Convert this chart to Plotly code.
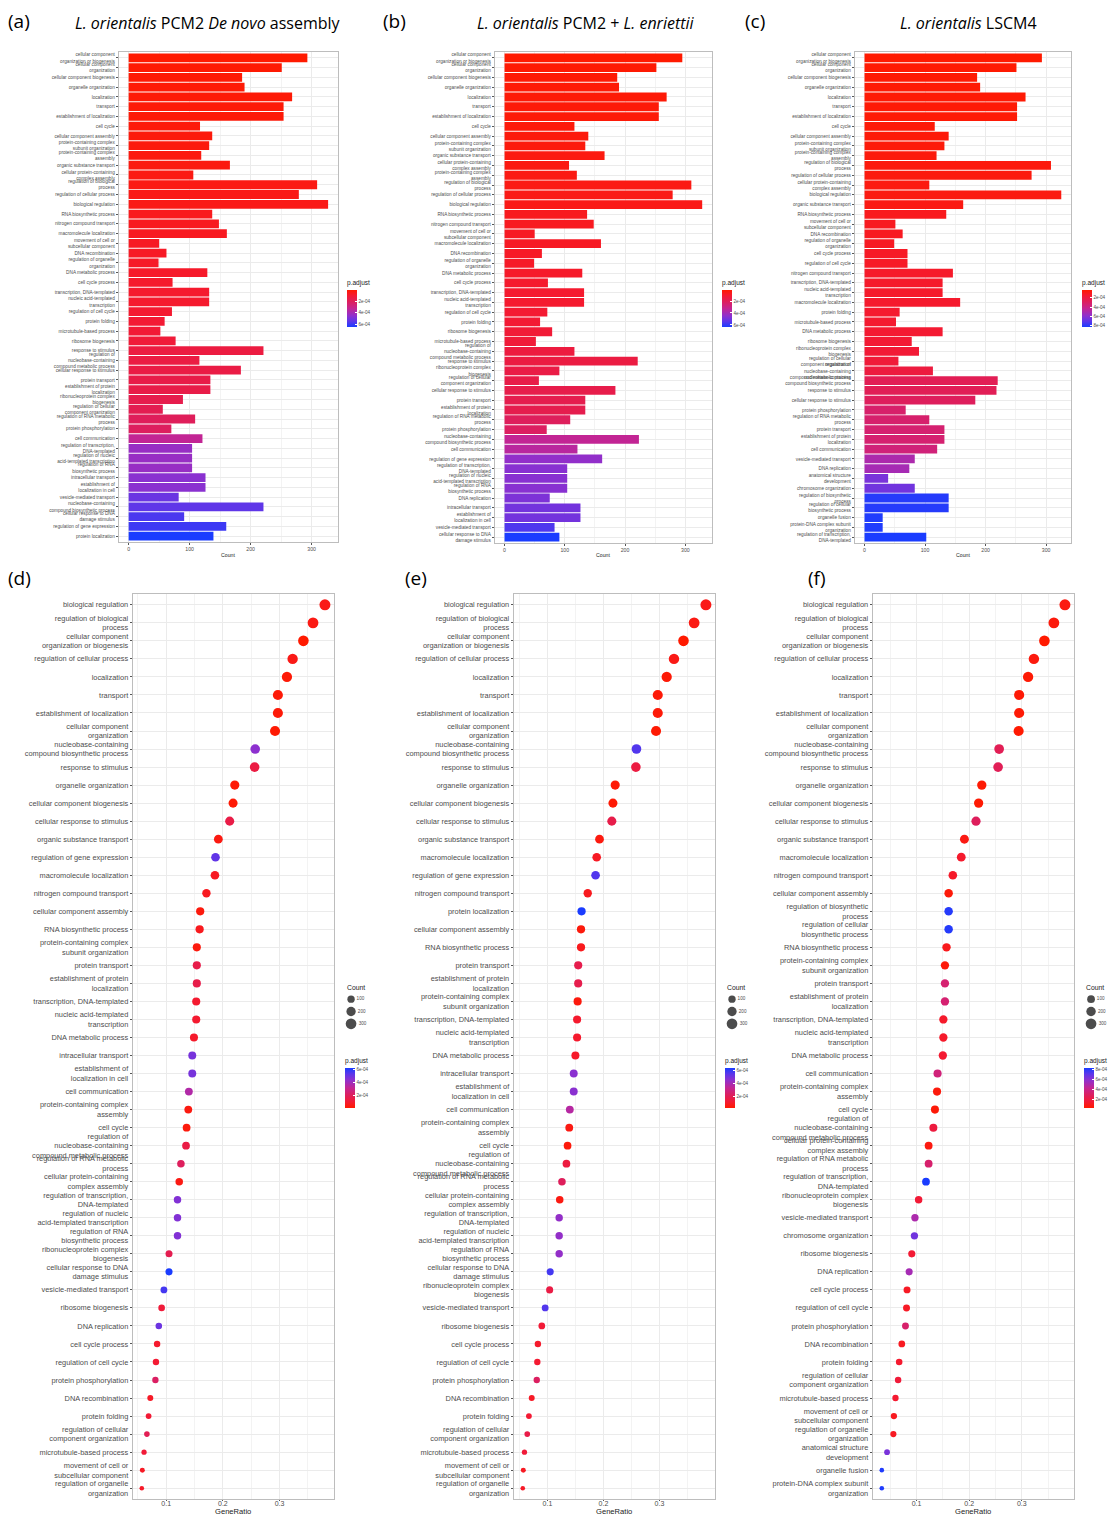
import math
import plotly.graph_objects as go

W, H = 1110, 1517

# ---------------- DATA ----------------
# (a) bar chart: L. orientalis PCM2 De novo assembly
a_terms = ["cellular component<br>organization or biogenesis", "cellular component<br>organization",
           "cellular component biogenesis", "organelle organization", "localization", "transport",
           "establishment of localization", "cell cycle", "cellular component assembly",
           "protein-containing complex<br>subunit organization", "protein-containing complex<br>assembly",
           "organic substance transport", "cellular protein-containing<br>complex assembly",
           "regulation of biological<br>process", "regulation of cellular process", "biological regulation",
           "RNA biosynthetic process", "nitrogen compound transport", "macromolecule localization",
           "movement of cell or<br>subcellular component", "DNA recombination",
           "regulation of organelle<br>organization", "DNA metabolic process", "cell cycle process",
           "transcription, DNA-templated", "nucleic acid-templated<br>transcription", "regulation of cell cycle",
           "protein folding", "microtubule-based process", "ribosome biogenesis", "response to stimulus",
           "regulation of<br>nucleobase-containing<br>compound metabolic process", "cellular response to stimulus",
           "protein transport", "establishment of protein<br>localization", "ribonucleoprotein complex<br>biogenesis",
           "regulation of cellular<br>component organization", "regulation of RNA metabolic<br>process",
           "protein phosphorylation", "cell communication", "regulation of transcription,<br>DNA-templated",
           "regulation of nucleic<br>acid-templated transcription", "regulation of RNA<br>biosynthetic process",
           "intracellular transport", "establishment of<br>localization in cell", "vesicle-mediated transport",
           "nucleobase-containing<br>compound biosynthetic process", "cellular response to DNA<br>damage stimulus",
           "regulation of gene expression", "protein localization"]
a_count = [293, 251, 186, 190, 268, 254, 254, 117, 137, 132, 119, 166, 106, 309, 279, 327, 137, 148, 161, 50,
           62, 49, 129, 72, 132, 132, 71, 59, 52, 77, 221, 116, 184, 134, 134, 89, 56, 109, 70, 121,
           104, 104, 104, 126, 126, 82, 221, 91, 160, 139]
a_padj = [1.3e-5, 1.8e-5, 2.2e-5, 2.4e-5, 2.6e-5, 2.8e-5, 2.8e-5, 3.4e-5, 3.6e-5, 3.8e-5, 4.2e-5, 4.4e-5, 4.8e-5,
          5.0e-5, 5.4e-5, 5.6e-5, 6.8e-5, 7.2e-5, 7.6e-5, 8.0e-5, 8.4e-5, 8.8e-5, 9.2e-5, 9.6e-5, 1.0e-4, 1.0e-4,
          1.06e-4, 1.12e-4, 1.18e-4, 1.24e-4, 1.45e-4, 1.5e-4, 1.55e-4, 1.62e-4, 1.62e-4, 1.75e-4, 1.85e-4,
          2.05e-4, 2.15e-4, 3.3e-4, 4.3e-4, 4.3e-4, 4.3e-4, 4.6e-4, 4.6e-4, 5.2e-4, 5.4e-4, 5.7e-4, 5.9e-4, 6.4e-4]

# (b) bar chart: L. orientalis PCM2 + L. enriettii
b_terms = ["cellular component<br>organization or biogenesis", "cellular component<br>organization",
           "cellular component biogenesis", "organelle organization", "localization", "transport",
           "establishment of localization", "cell cycle", "cellular component assembly",
           "protein-containing complex<br>subunit organization", "organic substance transport",
           "cellular protein-containing<br>complex assembly", "protein-containing complex<br>assembly",
           "regulation of biological<br>process", "regulation of cellular process", "biological regulation",
           "RNA biosynthetic process", "nitrogen compound transport", "movement of cell or<br>subcellular component",
           "macromolecule localization", "DNA recombination", "regulation of organelle<br>organization",
           "DNA metabolic process", "cell cycle process", "transcription, DNA-templated",
           "nucleic acid-templated<br>transcription", "regulation of cell cycle", "protein folding",
           "ribosome biogenesis", "microtubule-based process",
           "regulation of<br>nucleobase-containing<br>compound metabolic process", "response to stimulus",
           "ribonucleoprotein complex<br>biogenesis", "regulation of cellular<br>component organization",
           "cellular response to stimulus", "protein transport", "establishment of protein<br>localization",
           "regulation of RNA metabolic<br>process", "protein phosphorylation",
           "nucleobase-containing<br>compound biosynthetic process", "cell communication",
           "regulation of gene expression", "regulation of transcription,<br>DNA-templated",
           "regulation of nucleic<br>acid-templated transcription", "regulation of RNA<br>biosynthetic process",
           "DNA replication", "intracellular transport", "establishment of<br>localization in cell",
           "vesicle-mediated transport", "cellular response to DNA<br>damage stimulus"]
b_count = [295, 252, 187, 190, 269, 256, 256, 116, 139, 134, 166, 107, 120, 310, 279, 328, 137, 148, 50, 160,
           62, 49, 129, 72, 132, 132, 71, 59, 79, 52, 116, 221, 91, 57, 184, 134, 134, 109, 70, 223,
           121, 162, 104, 104, 104, 75, 126, 126, 83, 91]
b_padj = [1.5e-5, 2.0e-5, 2.4e-5, 2.6e-5, 2.8e-5, 3.0e-5, 3.0e-5, 3.6e-5, 3.8e-5, 4.0e-5, 4.4e-5, 4.8e-5, 5.0e-5,
          5.2e-5, 5.6e-5, 5.8e-5, 7.0e-5, 7.4e-5, 8.0e-5, 8.2e-5, 8.6e-5, 9.0e-5, 9.4e-5, 9.8e-5, 1.02e-4, 1.02e-4,
          1.08e-4, 1.14e-4, 1.2e-4, 1.26e-4, 1.4e-4, 1.48e-4, 1.56e-4, 1.62e-4, 1.68e-4, 1.76e-4, 1.76e-4,
          2.1e-4, 2.2e-4, 3.3e-4, 3.5e-4, 4.4e-4, 4.6e-4, 4.6e-4, 4.6e-4, 4.8e-4, 5.0e-4, 5.0e-4, 5.6e-4, 6.35e-4]

# (c) bar chart: L. orientalis LSCM4
c_terms = ["cellular component<br>organization or biogenesis", "cellular component<br>organization",
           "cellular component biogenesis", "organelle organization", "localization", "transport",
           "establishment of localization", "cell cycle", "cellular component assembly",
           "protein-containing complex<br>subunit organization", "protein-containing complex<br>assembly",
           "regulation of biological<br>process", "regulation of cellular process",
           "cellular protein-containing<br>complex assembly", "biological regulation", "organic substance transport",
           "RNA biosynthetic process", "movement of cell or<br>subcellular component", "DNA recombination",
           "regulation of organelle<br>organization", "cell cycle process", "regulation of cell cycle",
           "nitrogen compound transport", "transcription, DNA-templated", "nucleic acid-templated<br>transcription",
           "macromolecule localization", "protein folding", "microtubule-based process", "DNA metabolic process",
           "ribosome biogenesis", "ribonucleoprotein complex<br>biogenesis",
           "regulation of cellular<br>component organization",
           "regulation of<br>nucleobase-containing<br>compound metabolic process",
           "nucleobase-containing<br>compound biosynthetic process", "response to stimulus",
           "cellular response to stimulus", "protein phosphorylation", "regulation of RNA metabolic<br>process",
           "protein transport", "establishment of protein<br>localization", "cell communication",
           "vesicle-mediated transport", "DNA replication", "anatomical structure<br>development",
           "chromosome organization", "regulation of biosynthetic<br>process",
           "regulation of cellular<br>biosynthetic process", "organelle fusion",
           "protein-DNA complex subunit<br>organization", "regulation of transcription,<br>DNA-templated"]
c_count = [293, 251, 186, 191, 266, 252, 252, 116, 139, 132, 119, 308, 276, 107, 325, 163, 135, 51, 63, 49,
           71, 71, 146, 129, 129, 158, 58, 52, 129, 78, 90, 56, 113, 220, 218, 183, 68, 107, 132, 132,
           120, 83, 74, 39, 83, 139, 139, 30, 30, 102]
c_padj = [3.0e-5, 3.4e-5, 3.8e-5, 4.0e-5, 4.2e-5, 4.4e-5, 4.4e-5, 5.0e-5, 5.2e-5, 5.4e-5, 5.8e-5, 6.0e-5, 6.4e-5,
          6.8e-5, 7.0e-5, 7.6e-5, 1.0e-4, 1.06e-4, 1.1e-4, 1.14e-4, 1.2e-4, 1.22e-4, 1.3e-4, 1.34e-4, 1.34e-4,
          1.38e-4, 1.42e-4, 1.46e-4, 1.5e-4, 1.56e-4, 1.62e-4, 1.72e-4, 1.9e-4, 2.6e-4, 2.65e-4, 2.8e-4,
          3.2e-4, 3.25e-4, 3.35e-4, 3.35e-4, 3.6e-4, 5.0e-4, 5.2e-4, 6.4e-4, 6.6e-4, 8.1e-4, 8.1e-4, 8.2e-4,
          8.2e-4, 8.3e-4]

# (d) dot plot: L. orientalis PCM2 De novo assembly
d_terms = ["biological regulation", "regulation of biological<br>process",
           "cellular component<br>organization or biogenesis", "regulation of cellular process", "localization",
           "transport", "establishment of localization", "cellular component<br>organization",
           "nucleobase-containing<br>compound biosynthetic process", "response to stimulus",
           "organelle organization", "cellular component biogenesis", "cellular response to stimulus",
           "organic substance transport", "regulation of gene expression", "macromolecule localization",
           "nitrogen compound transport", "cellular component assembly", "RNA biosynthetic process",
           "protein-containing complex<br>subunit organization", "protein transport",
           "establishment of protein<br>localization", "transcription, DNA-templated",
           "nucleic acid-templated<br>transcription", "DNA metabolic process", "intracellular transport",
           "establishment of<br>localization in cell", "cell communication",
           "protein-containing complex<br>assembly", "cell cycle",
           "regulation of<br>nucleobase-containing<br>compound metabolic process",
           "regulation of RNA metabolic<br>process", "cellular protein-containing<br>complex assembly",
           "regulation of transcription,<br>DNA-templated", "regulation of nucleic<br>acid-templated transcription",
           "regulation of RNA<br>biosynthetic process", "ribonucleoprotein complex<br>biogenesis",
           "cellular response to DNA<br>damage stimulus", "vesicle-mediated transport", "ribosome biogenesis",
           "DNA replication", "cell cycle process", "regulation of cell cycle", "protein phosphorylation",
           "DNA recombination", "protein folding", "regulation of cellular<br>component organization",
           "microtubule-based process", "movement of cell or<br>subcellular component",
           "regulation of organelle<br>organization"]
d_ratio = [0.380, 0.359, 0.342, 0.323, 0.313, 0.297, 0.297, 0.292, 0.257, 0.256, 0.221, 0.218, 0.212, 0.192,
           0.187, 0.186, 0.171, 0.160, 0.159, 0.154, 0.154, 0.154, 0.153, 0.153, 0.149, 0.146, 0.146, 0.140,
           0.139, 0.136, 0.135, 0.126, 0.123, 0.120, 0.120, 0.120, 0.105, 0.105, 0.096, 0.092, 0.087, 0.084,
           0.082, 0.081, 0.072, 0.069, 0.066, 0.061, 0.058, 0.057]
d_count = [327, 309, 293, 279, 268, 254, 254, 251, 221, 221, 190, 186, 184, 166, 160, 161, 148, 137, 137, 132,
           134, 134, 132, 132, 129, 126, 126, 121, 119, 117, 116, 109, 106, 104, 104, 104, 89, 91, 82, 77,
           75, 72, 71, 70, 62, 59, 56, 52, 50, 49]
d_padj = [5.6e-5, 5.0e-5, 1.3e-5, 5.4e-5, 2.6e-5, 2.8e-5, 2.8e-5, 1.8e-5, 4.4e-4, 1.45e-4, 2.4e-5, 2.2e-5,
          1.55e-4, 4.4e-5, 5.2e-4, 7.6e-5, 7.2e-5, 3.6e-5, 6.8e-5, 3.8e-5, 1.62e-4, 1.62e-4, 1.0e-4, 1.0e-4,
          9.2e-5, 4.8e-4, 4.8e-4, 3.6e-4, 4.2e-5, 3.4e-5, 1.5e-4, 2.05e-4, 4.8e-5, 4.6e-4, 4.6e-4, 4.6e-4,
          1.75e-4, 6.2e-4, 5.6e-4, 1.24e-4, 5.0e-4, 9.6e-5, 1.06e-4, 2.15e-4, 8.4e-5, 1.12e-4, 1.85e-4,
          1.18e-4, 8.0e-5, 8.8e-5]

# (e) dot plot: L. orientalis PCM2 + L. enriettii
e_terms = ["biological regulation", "regulation of biological<br>process",
           "cellular component<br>organization or biogenesis", "regulation of cellular process", "localization",
           "transport", "establishment of localization", "cellular component<br>organization",
           "nucleobase-containing<br>compound biosynthetic process", "response to stimulus",
           "organelle organization", "cellular component biogenesis", "cellular response to stimulus",
           "organic substance transport", "macromolecule localization", "regulation of gene expression",
           "nitrogen compound transport", "protein localization", "cellular component assembly",
           "RNA biosynthetic process", "protein transport", "establishment of protein<br>localization",
           "protein-containing complex<br>subunit organization", "transcription, DNA-templated",
           "nucleic acid-templated<br>transcription", "DNA metabolic process", "intracellular transport",
           "establishment of<br>localization in cell", "cell communication",
           "protein-containing complex<br>assembly", "cell cycle",
           "regulation of<br>nucleobase-containing<br>compound metabolic process",
           "regulation of RNA metabolic<br>process", "cellular protein-containing<br>complex assembly",
           "regulation of transcription,<br>DNA-templated", "regulation of nucleic<br>acid-templated transcription",
           "regulation of RNA<br>biosynthetic process", "cellular response to DNA<br>damage stimulus",
           "ribonucleoprotein complex<br>biogenesis", "vesicle-mediated transport", "ribosome biogenesis",
           "cell cycle process", "regulation of cell cycle", "protein phosphorylation", "DNA recombination",
           "protein folding", "regulation of cellular<br>component organization", "microtubule-based process",
           "movement of cell or<br>subcellular component", "regulation of organelle<br>organization"]
e_ratio = [0.383, 0.362, 0.343, 0.326, 0.313, 0.297, 0.297, 0.294, 0.259, 0.258, 0.221, 0.217, 0.215, 0.193,
           0.188, 0.186, 0.172, 0.161, 0.160, 0.160, 0.155, 0.155, 0.154, 0.153, 0.153, 0.150, 0.147, 0.147,
           0.140, 0.139, 0.136, 0.134, 0.126, 0.122, 0.121, 0.121, 0.121, 0.105, 0.104, 0.096, 0.090, 0.083,
           0.082, 0.081, 0.072, 0.067, 0.064, 0.059, 0.057, 0.056]
e_count = [328, 310, 295, 279, 269, 256, 256, 252, 223, 221, 190, 187, 184, 166, 160, 162, 148, 138, 139, 137,
           134, 134, 134, 132, 132, 129, 126, 126, 121, 120, 116, 116, 109, 107, 104, 104, 104, 91, 91, 83,
           79, 72, 71, 70, 62, 59, 57, 52, 50, 49]
e_padj = [5.8e-5, 5.2e-5, 1.5e-5, 5.6e-5, 2.8e-5, 3.0e-5, 3.0e-5, 2.0e-5, 5.6e-4, 1.48e-4, 2.6e-5, 2.4e-5,
          1.68e-4, 4.4e-5, 8.2e-5, 5.6e-4, 7.4e-5, 6.4e-4, 3.8e-5, 7.0e-5, 1.76e-4, 1.76e-4, 4.0e-5, 1.02e-4,
          1.02e-4, 9.4e-5, 4.6e-4, 4.6e-4, 3.6e-4, 5.0e-5, 3.6e-5, 1.4e-4, 2.1e-4, 4.8e-5, 4.4e-4, 4.4e-4,
          4.4e-4, 5.8e-4, 1.56e-4, 5.6e-4, 1.2e-4, 9.8e-5, 1.08e-4, 2.2e-4, 8.6e-5, 1.14e-4, 1.62e-4, 1.26e-4,
          8.0e-5, 9.0e-5]

# (f) dot plot: L. orientalis LSCM4
f_terms = ["biological regulation", "regulation of biological<br>process",
           "cellular component<br>organization or biogenesis", "regulation of cellular process", "localization",
           "transport", "establishment of localization", "cellular component<br>organization",
           "nucleobase-containing<br>compound biosynthetic process", "response to stimulus",
           "organelle organization", "cellular component biogenesis", "cellular response to stimulus",
           "organic substance transport", "macromolecule localization", "nitrogen compound transport",
           "cellular component assembly", "regulation of biosynthetic<br>process",
           "regulation of cellular<br>biosynthetic process", "RNA biosynthetic process",
           "protein-containing complex<br>subunit organization", "protein transport",
           "establishment of protein<br>localization", "transcription, DNA-templated",
           "nucleic acid-templated<br>transcription", "DNA metabolic process", "cell communication",
           "protein-containing complex<br>assembly", "cell cycle",
           "regulation of<br>nucleobase-containing<br>compound metabolic process",
           "cellular protein-containing<br>complex assembly", "regulation of RNA metabolic<br>process",
           "regulation of transcription,<br>DNA-templated", "ribonucleoprotein complex<br>biogenesis",
           "vesicle-mediated transport", "chromosome organization", "ribosome biogenesis", "DNA replication",
           "cell cycle process", "regulation of cell cycle", "protein phosphorylation", "DNA recombination",
           "protein folding", "regulation of cellular<br>component organization", "microtubule-based process",
           "movement of cell or<br>subcellular component", "regulation of organelle<br>organization",
           "anatomical structure<br>development", "organelle fusion", "protein-DNA complex subunit<br>organization"]
f_ratio = [0.382, 0.361, 0.343, 0.323, 0.312, 0.295, 0.295, 0.294, 0.257, 0.255, 0.224, 0.218, 0.213, 0.191,
           0.185, 0.169, 0.161, 0.161, 0.161, 0.157, 0.154, 0.154, 0.154, 0.151, 0.151, 0.150, 0.140, 0.139,
           0.135, 0.132, 0.123, 0.123, 0.118, 0.104, 0.097, 0.096, 0.091, 0.086, 0.082, 0.081, 0.079, 0.072,
           0.067, 0.065, 0.060, 0.057, 0.056, 0.044, 0.034, 0.034]
f_count = [325, 308, 293, 276, 266, 252, 252, 251, 220, 218, 191, 186, 183, 163, 158, 146, 139, 139, 139, 135,
           132, 132, 132, 129, 129, 129, 120, 119, 116, 113, 107, 107, 102, 90, 83, 83, 78, 74, 71, 71,
           68, 63, 58, 56, 52, 51, 49, 39, 30, 30]
f_padj = [7.0e-5, 6.0e-5, 3.0e-5, 6.4e-5, 4.2e-5, 4.4e-5, 4.4e-5, 3.4e-5, 2.6e-4, 2.65e-4, 4.0e-5, 3.8e-5,
          2.8e-4, 7.6e-5, 1.38e-4, 1.3e-4, 5.2e-5, 8.1e-4, 8.1e-4, 1.0e-4, 5.4e-5, 3.35e-4, 3.35e-4, 1.34e-4,
          1.34e-4, 1.5e-4, 3.6e-4, 5.8e-5, 5.0e-5, 1.9e-4, 6.8e-5, 3.25e-4, 8.3e-4, 1.62e-4, 5.0e-4, 6.6e-4,
          1.56e-4, 5.2e-4, 1.2e-4, 1.22e-4, 3.2e-4, 1.1e-4, 1.42e-4, 1.72e-4, 1.46e-4, 1.06e-4, 1.14e-4,
          6.4e-4, 8.2e-4, 8.2e-4]

padj_ticks = [2e-4, 4e-4, 6e-4, 8e-4]
padj_ticktext = ["2e-04", "4e-04", "6e-04", "8e-04"]
count_legend = [100, 200, 300]

panel_letters = ["(a)", "(b)", "(c)", "(d)", "(e)", "(f)"]
panel_titles = ["<i>L. orientalis</i> PCM2 <i>De novo</i> assembly",
                "<i>L. orientalis</i> PCM2 + <i>L. enriettii</i>",
                "<i>L. orientalis</i> LSCM4"]

# ---------------- STYLE ----------------
FONT = "Liberation Sans, Arial, sans-serif"
TFONT = "Open Sans, Lato, sans-serif"
TXT = "#4D4D4D"
GRID = "#EBEBEB"
MINOR = "#F3F3F3"
BORDER = "#BDBDBD"
SCALE = [[0.0, "#FF1A00"], [0.15, "#F41A32"], [0.3, "#E01E58"], [0.5, "#C42592"],
         [0.7, "#8E30CE"], [0.85, "#5C36EA"], [1.0, "#1A3CFF"]]
SCALE_REV = [[1 - s, c] for s, c in reversed(SCALE)]


def fx(p):
    return min(max(p / W, 0.0), 1.0)


def fy(p):
    return min(max(1 - p / H, 0.0), 1.0)


fig = go.Figure()
layout = dict(width=W, height=H, margin=dict(l=0, r=0, t=0, b=0), paper_bgcolor="white",
              plot_bgcolor="white", showlegend=False, annotations=[])


def ann(text, x, y, size, xanchor="center", yanchor="middle", family=FONT, color="black"):
    layout["annotations"].append(dict(text=text, x=x / W, y=1 - y / H, xref="paper", yref="paper",
                                      showarrow=False, xanchor=xanchor, yanchor=yanchor,
                                      font=dict(size=size, family=family, color=color)))


def axis_common():
    return dict(showline=True, mirror=True, linecolor=BORDER, linewidth=0.8, zeroline=False,
                showgrid=True, gridcolor=GRID, gridwidth=0.7, ticks="outside", ticklen=2,
                tickcolor="#555555", tickwidth=0.6, automargin=False)


def cbar(x, ycen, length, ticks_neg):
    vals = [-t if ticks_neg else t for t in padj_ticks]
    return dict(x=fx(x), xanchor="left", xpad=0, y=fy(ycen), yanchor="middle", ypad=0,
                len=length, lenmode="pixels", thickness=10, outlinewidth=0,
                tickvals=vals, ticktext=padj_ticktext, ticks="inside", tickcolor="white",
                ticklen=2, tickfont=dict(size=4.6, family=FONT, color=TXT),
                title=dict(text="p.adjust", side="top", font=dict(size=6.5, family=FONT, color="#222")))


# ---------------- BAR PANELS ----------------
bar_panels = [
    (a_terms, a_count, a_padj, (119, 339, 52, 542), 348),
    (b_terms, b_count, b_padj, (496, 714, 52, 543), 724),
    (c_terms, c_count, c_padj, (857, 1074, 52, 543), 1085),
]
for i, (terms, counts, padj, box, cbx) in enumerate(bar_panels):
    k = i + 1
    sfx = "" if k == 1 else str(k)
    ca = "coloraxis" + sfx
    fig.add_trace(go.Bar(x=counts, y=terms, orientation="h", width=0.9,
                         marker=dict(color=[-p for p in padj], coloraxis=ca, line=dict(width=0)),
                         xaxis="x" + sfx, yaxis="y" + sfx, showlegend=False))
    cmax = max(counts)
    xa = axis_common()
    xa.update(domain=[fx(box[0]), fx(box[1])], range=[-0.05 * cmax, 1.05 * cmax], anchor="y" + sfx,
              tick0=0, dtick=100, tickfont=dict(size=5.2, family=FONT, color=TXT),
              minor=dict(dtick=50, tick0=0, showgrid=True, gridcolor=MINOR, gridwidth=0.5))
    ya = axis_common()
    n = len(terms)
    ya.update(domain=[fy(box[3]), fy(box[2])], type="category", categoryorder="array",
              categoryarray=terms, range=[n - 0.4, -0.6], anchor="x" + sfx,
              tickfont=dict(size=4.7, family=FONT, color=TXT))
    layout["xaxis" + sfx] = xa
    layout["yaxis" + sfx] = ya
    layout[ca] = dict(cmin=-max(padj), cmax=-min(padj), colorscale=SCALE_REV,
                      colorbar=cbar(cbx, 302, 50, True))
    ann("Count", (box[0] + box[1]) / 2, 555, 5.2, color="#222")

# ---------------- DOT PANELS ----------------
dot_panels = [
    (d_terms, d_ratio, d_count, d_padj, (133, 335), 346, 352),
    (e_terms, e_ratio, e_count, e_padj, (515, 717), 727, 734),
    (f_terms, f_ratio, f_count, f_padj, (875, 1077), 1087, 1094),
]


def dsize(c, lo, hi):
    return 4.6 + 6.4 * math.sqrt(max(c - lo, 0) / (hi - lo))


for i, (terms, ratio, counts, padj, xb, lgx, circx) in enumerate(dot_panels):
    k = i + 4
    sfx = str(k)
    ca = "coloraxis" + sfx
    lo, hi = min(counts), max(counts)
    fig.add_trace(go.Scatter(x=ratio, y=terms, mode="markers",
                             marker=dict(size=[dsize(c, lo, hi) for c in counts],
                                         color=padj, coloraxis=ca, line=dict(width=0), opacity=1),
                             xaxis="x" + sfx, yaxis="y" + sfx, showlegend=False))
    rmin, rmax = min(ratio), max(ratio)
    pad = 0.05 * (rmax - rmin)
    xa = axis_common()
    xa.update(domain=[fx(xb[0]), fx(xb[1])], range=[rmin - pad, rmax + pad], anchor="y" + sfx,
              tick0=0, dtick=0.1, tickfont=dict(size=7.0, family=FONT, color=TXT),
              ticklen=1.5, ticklabelstandoff=-4,
              minor=dict(dtick=0.05, tick0=0, showgrid=True, gridcolor=MINOR, gridwidth=0.5))
    ya = axis_common()
    n = len(terms)
    ya.update(domain=[fy(1499), fy(594)], type="category", categoryorder="array",
              categoryarray=terms, range=[n - 0.4, -0.6], anchor="x" + sfx,
              tickfont=dict(size=7.4, family=FONT, color=TXT))
    layout["xaxis" + sfx] = xa
    layout["yaxis" + sfx] = ya
    layout[ca] = dict(cmin=min(padj), cmax=max(padj), colorscale=SCALE,
                      colorbar=cbar(lgx, 1081.5, 53, False))
    ann("GeneRatio", (xb[0] + xb[1]) / 2, 1518, 7.6, yanchor="bottom", color="#222")

    # Count size legend, drawn on its own hidden axes (1 axis unit = 1 px)
    lk = str(k + 3)
    left = circx - 6
    right = min(circx + 14, W)
    fig.add_trace(go.Scatter(x=[0, 0, 0], y=[0, 1, 2], mode="markers+text",
                             text=[str(v) for v in count_legend], textposition="middle right",
                             textfont=dict(size=4.6, family=FONT, color=TXT),
                             marker=dict(size=[dsize(v, lo, hi) for v in count_legend], color="black",
                                         line=dict(width=0)),
                             xaxis="x" + lk, yaxis="y" + lk, showlegend=False, cliponaxis=False))
    layout["xaxis" + lk] = dict(domain=[fx(left), fx(right)], range=[left - circx, right - circx],
                                visible=False, anchor="y" + lk, fixedrange=True)
    layout["yaxis" + lk] = dict(domain=[fy(1030), fy(993)], range=[2.5, -0.5], visible=False,
                                anchor="x" + lk, fixedrange=True)
    ann("Count", lgx, 988, 6.8, xanchor="left", color="#222")

# ---------------- TITLES ----------------
for letter, x in zip(panel_letters[:3], [6, 382, 745]):
    ann(letter, x, 21, 19, xanchor="left", family=TFONT)
for title, x in zip(panel_titles, [209, 588, 971]):
    ann(title, x, 23, 16, family=TFONT)
for letter, x in zip(panel_letters[3:], [6, 404, 808]):
    ann(letter, x, 578, 19, xanchor="left", family=TFONT)

fig.update_layout(**layout)
# the default page body has an 8px margin; remove it so the figure sits at the window origin
fig.write_html("out.html", config={"displayModeBar": False},
               post_script="document.body.style.margin='0px';")
